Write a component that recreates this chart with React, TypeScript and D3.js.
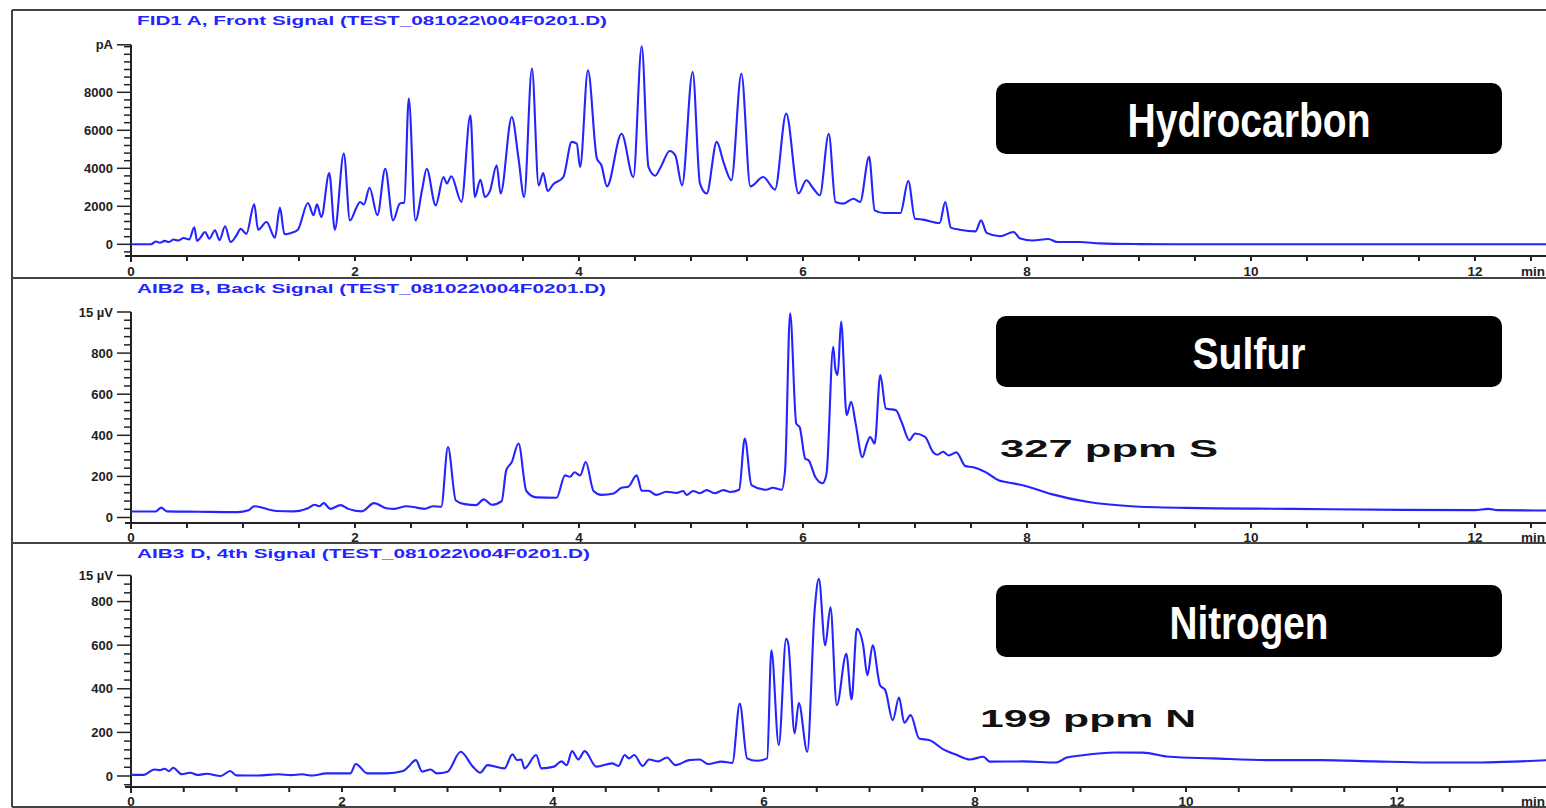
import React from "react";
import * as d3 from "d3";

const W = 1546;
const H = 808;

// ---------- DATA (retention time in min, detector signal) ----------
const hydrocarbonSignal: [number, number][] = [
  [0, 0], [0.18, 0], [0.22, 150], [0.26, 80], [0.3, 180], [0.34, 120], [0.38, 250], [0.42, 200],
  [0.47, 330], [0.52, 260], [0.565, 900], [0.59, 180], [0.62, 350], [0.66, 650], [0.7, 300],
  [0.75, 740], [0.79, 220], [0.84, 950], [0.89, 120], [0.94, 450], [0.98, 810], [1.03, 550],
  [1.1, 2100], [1.135, 770], [1.21, 1170], [1.285, 350], [1.33, 1930], [1.37, 530], [1.43, 600],
  [1.49, 770], [1.58, 2170], [1.63, 1530], [1.66, 2100], [1.7, 1440], [1.77, 3750], [1.82, 770],
  [1.9, 4770], [1.955, 1260], [2.01, 1900], [2.045, 2230], [2.08, 2100], [2.13, 2980], [2.2, 1530],
  [2.27, 3980], [2.34, 1260], [2.4, 2140], [2.44, 2200], [2.48, 7670], [2.54, 1260], [2.6, 2900],
  [2.64, 3980], [2.72, 2050], [2.79, 3540], [2.82, 3200], [2.86, 3580], [2.95, 2230], [3.03, 6790],
  [3.07, 2490], [3.12, 3400], [3.16, 2490], [3.205, 2810], [3.265, 4160], [3.3, 2670], [3.4, 6700],
  [3.46, 4510], [3.51, 2490], [3.58, 9250], [3.64, 3100], [3.68, 3750], [3.72, 2810], [3.77, 3160],
  [3.86, 3540], [3.935, 5390], [3.98, 5300], [4.01, 4070], [4.08, 9160], [4.16, 4510], [4.2, 4160],
  [4.25, 3050], [4.38, 5820], [4.485, 3540], [4.56, 10420], [4.62, 4070], [4.68, 3610], [4.73, 4070],
  [4.81, 4910], [4.86, 4680], [4.92, 3100], [5.015, 9070], [5.08, 3190], [5.14, 2670], [5.23, 5390],
  [5.29, 4330], [5.36, 3370], [5.45, 8980], [5.53, 3050], [5.645, 3540], [5.75, 2880], [5.85, 6880],
  [5.96, 2670], [6.03, 3370], [6.09, 2950], [6.15, 2580], [6.23, 5820], [6.29, 2230], [6.36, 2140],
  [6.45, 2400], [6.51, 2230], [6.59, 4600], [6.64, 1790], [6.72, 1650], [6.87, 1650], [6.94, 3330],
  [7.0, 1350], [7.07, 1300], [7.22, 1120], [7.27, 2230], [7.32, 880], [7.4, 770], [7.54, 680],
  [7.59, 1260], [7.64, 600], [7.76, 420], [7.88, 650], [7.94, 300], [8.05, 200], [8.19, 280],
  [8.27, 120], [8.47, 120], [8.65, 50], [9.0, 10], [9.3, 0], [12.7, 0],
];

const sulfurSignal: [number, number][] = [
  [0, 29], [0.22, 29], [0.27, 48], [0.32, 30], [0.6, 28], [0.95, 26], [1.05, 35], [1.1, 55],
  [1.16, 50], [1.22, 40], [1.3, 32], [1.45, 30], [1.58, 45], [1.64, 62], [1.68, 55], [1.72, 70],
  [1.78, 42], [1.87, 60], [1.94, 42], [2.06, 30], [2.17, 70], [2.28, 45], [2.35, 42], [2.46, 55],
  [2.55, 48], [2.62, 42], [2.7, 55], [2.77, 52], [2.83, 343], [2.9, 83], [2.98, 65], [3.08, 60],
  [3.15, 88], [3.22, 62], [3.31, 80], [3.35, 229], [3.4, 270], [3.46, 360], [3.53, 129], [3.62, 98],
  [3.8, 96], [3.875, 205], [3.92, 198], [3.96, 220], [4.01, 205], [4.06, 270], [4.13, 129],
  [4.2, 110], [4.31, 117], [4.38, 145], [4.44, 150], [4.515, 205], [4.56, 130], [4.62, 130],
  [4.69, 110], [4.78, 125], [4.87, 120], [4.93, 129], [4.96, 110], [5.02, 129], [5.08, 118],
  [5.14, 133], [5.21, 118], [5.29, 133], [5.35, 124], [5.43, 135], [5.48, 384], [5.54, 158],
  [5.67, 135], [5.73, 145], [5.81, 135], [5.84, 230], [5.885, 994], [5.94, 457], [5.97, 440],
  [6.02, 286], [6.05, 278], [6.11, 197], [6.175, 167], [6.21, 213], [6.27, 831], [6.29, 718],
  [6.31, 694], [6.34, 953], [6.39, 498], [6.43, 563], [6.47, 457], [6.53, 294], [6.57, 360],
  [6.6, 392], [6.64, 360], [6.69, 693], [6.74, 530], [6.83, 522], [6.88, 465], [6.95, 376],
  [7.0, 409], [7.09, 392], [7.16, 319], [7.2, 305], [7.25, 320], [7.3, 302], [7.37, 317],
  [7.45, 250], [7.52, 245], [7.63, 221], [7.75, 180], [7.82, 172], [7.97, 156], [8.21, 115],
  [8.55, 75], [8.93, 55], [9.42, 47], [10.38, 42], [11.34, 37], [12.0, 36], [12.12, 42],
  [12.2, 36], [12.7, 34],
];

const nitrogenSignal: [number, number][] = [
  [0, 5], [0.12, 5], [0.22, 30], [0.27, 27], [0.32, 33], [0.36, 22], [0.4, 38], [0.48, 8],
  [0.56, 15], [0.63, 5], [0.72, 10], [0.85, 0], [0.94, 23], [1.0, 3], [1.2, 2], [1.4, 8],
  [1.52, 4], [1.62, 8], [1.72, 2], [1.85, 12], [2.08, 12], [2.13, 55], [2.24, 12], [2.42, 12],
  [2.58, 23], [2.63, 43], [2.7, 73], [2.76, 20], [2.84, 30], [2.9, 12], [3.0, 20], [3.125, 111],
  [3.24, 43], [3.31, 15], [3.38, 50], [3.54, 35], [3.615, 99], [3.66, 73], [3.7, 76], [3.73, 35],
  [3.84, 96], [3.89, 35], [4.01, 43], [4.08, 67], [4.13, 50], [4.18, 114], [4.24, 76], [4.3, 114],
  [4.41, 43], [4.56, 58], [4.62, 46], [4.68, 96], [4.72, 81], [4.77, 96], [4.85, 46], [4.91, 76],
  [5.0, 67], [5.08, 85], [5.16, 50], [5.29, 73], [5.39, 76], [5.47, 55], [5.6, 66], [5.7, 60],
  [5.77, 332], [5.84, 81], [5.93, 70], [6.03, 81], [6.07, 576], [6.14, 142], [6.21, 629],
  [6.23, 607], [6.29, 195], [6.33, 335], [6.41, 111], [6.48, 760], [6.52, 904], [6.58, 599],
  [6.63, 774], [6.69, 325], [6.78, 561], [6.83, 351], [6.88, 675], [6.94, 599], [6.98, 462],
  [7.03, 599], [7.1, 416], [7.15, 393], [7.22, 256], [7.28, 360], [7.33, 244], [7.39, 279],
  [7.47, 172], [7.57, 164], [7.7, 122], [7.83, 96], [7.95, 76], [8.08, 88], [8.14, 66],
  [8.46, 67], [8.77, 62], [8.87, 85], [9.0, 94], [9.33, 108], [9.59, 107], [9.84, 88],
  [10.25, 81], [10.76, 73], [11.28, 73], [11.79, 67], [12.3, 62], [12.81, 62], [13.17, 67],
  [13.45, 73],
];

const xMajorTicks = [0, 2, 4, 6, 8, 10, 12];
const hcYTicks = [0, 2000, 4000, 6000, 8000];
const detYTicks = [0, 200, 400, 600, 800];

const panelTitles = [
  "FID1 A, Front Signal (TEST_081022\\004F0201.D)",
  "AIB2 B, Back Signal (TEST_081022\\004F0201.D)",
  "AIB3 D, 4th Signal (TEST_081022\\004F0201.D)",
];
const unitLabels = ["pA", "15 µV", "15 µV"];
const elementLabels = ["Hydrocarbon", "Sulfur", "Nitrogen"];
const concentrationLabels = ["", "327 ppm S", "199 ppm N"];

// ---------- LAYOUT ----------
type Cfg = {
  data: [number, number][];
  title: string;
  titleBase: number;
  titleLen: number;
  pxPerMin: number;
  zeroY: number;
  topVal: number;
  topY: number;
  axisY: number;
  yMajor: number[];
  minorStep: number;
  minorMin: number;
  unit: string;
  labelBase: number;
  box: [number, number];
  element: string;
  elemBase: number;
  elemLen: number;
  elemSize: number;
  conc: string;
  concX: number;
  concBase: number;
  concLen: number;
};

const AXIS_X = 131;
const FONT = "'Liberation Sans', Arial, sans-serif";
const NARROW = "'Liberation Sans Narrow', 'Arial Narrow', 'Liberation Sans', Arial, sans-serif";
const BLUE = "#2424ff";

const configs: Cfg[] = [
  {
    data: hydrocarbonSignal, title: panelTitles[0], titleBase: 24.5, titleLen: 470,
    pxPerMin: 112, zeroY: 244.3, topVal: 10500, topY: 44.8, axisY: 256,
    yMajor: hcYTicks, minorStep: 400, minorMin: -400, unit: unitLabels[0], labelBase: 276,
    box: [83, 154], element: elementLabels[0], elemBase: 137, elemLen: 243, elemSize: 49,
    conc: concentrationLabels[0], concX: 0, concBase: 0, concLen: 0,
  },
  {
    data: sulfurSignal, title: panelTitles[1], titleBase: 292.5, titleLen: 469,
    pxPerMin: 112, zeroY: 517.5, topVal: 1000, topY: 312, axisY: 523,
    yMajor: detYTicks, minorStep: 40, minorMin: 40, unit: unitLabels[1], labelBase: 542,
    box: [316, 387], element: elementLabels[1], elemBase: 369, elemLen: 113, elemSize: 45,
    conc: concentrationLabels[1], concX: 1000, concBase: 456.7, concLen: 218,
  },
  {
    data: nitrogenSignal, title: panelTitles[2], titleBase: 558, titleLen: 453,
    pxPerMin: 105.5, zeroY: 776, topVal: 920, topY: 575.4, axisY: 787,
    yMajor: detYTicks, minorStep: 40, minorMin: -40, unit: unitLabels[2], labelBase: 806,
    box: [585, 657], element: elementLabels[2], elemBase: 639, elemLen: 159, elemSize: 47,
    conc: concentrationLabels[2], concX: 980, concBase: 727.3, concLen: 216,
  },
];

function Panel({ c }: { c: Cfg }) {
  const x = d3.scaleLinear().domain([0, 1]).range([AXIS_X, AXIS_X + c.pxPerMin]);
  const y = d3.scaleLinear().domain([0, c.topVal]).range([c.zeroY, c.topY]);
  const line = d3
    .line<[number, number]>()
    .x((d) => x(d[0]))
    .y((d) => y(d[1]))
    .curve(d3.curveMonotoneX);
  const tEnd = x.invert(W + 2);
  const minorX = d3.range(0, tEnd, 0.5);
  const minorY = d3.range(c.minorMin, c.topVal, c.minorStep).filter(
    (v) => !c.yMajor.includes(v) && y(v) <= c.axisY
  );
  const tickColor = "#222";
  return (
    <g>
      <text x={137} y={c.titleBase} fill={BLUE} fontFamily={FONT} fontWeight="bold" fontSize={13.5}
        textLength={c.titleLen} lengthAdjust="spacingAndGlyphs">{c.title}</text>
      {/* y axis */}
      <line x1={AXIS_X} x2={AXIS_X} y1={c.topY} y2={c.axisY + 6} stroke={tickColor} strokeWidth={2} />
      {minorY.map((v) => (
        <line key={"my" + v} x1={AXIS_X - 7} x2={AXIS_X} y1={y(v)} y2={y(v)} stroke={tickColor} strokeWidth={1.5} />
      ))}
      {c.yMajor.map((v) => (
        <g key={"Y" + v}>
          <line x1={AXIS_X - 14} x2={AXIS_X} y1={y(v)} y2={y(v)} stroke={tickColor} strokeWidth={1.5} />
          <text x={AXIS_X - 18} y={y(v)} dy="0.36em" textAnchor="end" fontFamily={FONT} fontSize={13}
            fontWeight="bold" fill="#222">
            {String(v)}
          </text>
        </g>
      ))}
      <line x1={AXIS_X - 14} x2={AXIS_X} y1={c.topY} y2={c.topY} stroke={tickColor} strokeWidth={1.5} />
      <text x={AXIS_X - 18} y={c.topY} dy="0.36em" textAnchor="end" fontFamily={FONT} fontSize={13}
        fontWeight="bold" fill="#222">
        {c.unit}
      </text>
      {/* x axis */}
      <line x1={AXIS_X - 6} x2={W} y1={c.axisY} y2={c.axisY} stroke={tickColor} strokeWidth={2} />
      {minorX.map((t) => (
        <line key={"mx" + t} x1={x(t)} x2={x(t)} y1={c.axisY} y2={c.axisY + 5} stroke={tickColor} strokeWidth={2} />
      ))}
      {xMajorTicks.filter((t) => t <= tEnd).map((t) => (
        <text key={"X" + t} x={x(t)} y={c.labelBase} textAnchor="middle" fontFamily={FONT} fontSize={13.5}
          fontWeight="bold" fill="#222">
          {String(t)}
        </text>
      ))}
      <text x={1521} y={c.labelBase} fontFamily={FONT} fontSize={13.5} fontWeight="bold" fill="#222">min</text>
      {/* signal */}
      <path d={line(c.data) ?? ""} fill="none" stroke={BLUE} strokeWidth={2.1} strokeLinejoin="round" />
      {/* label box */}
      <rect x={996} y={c.box[0]} width={506} height={c.box[1] - c.box[0]} rx={10} ry={10} fill="#000" />
      <text x={1249} y={c.elemBase} textAnchor="middle" fill="#fff" fontFamily={NARROW} fontWeight="bold"
        fontSize={c.elemSize} textLength={c.elemLen} lengthAdjust="spacingAndGlyphs">{c.element}</text>
      {c.conc && (
        <text x={c.concX} y={c.concBase} fill="#111" fontFamily={FONT} fontWeight="bold" fontSize={23}
          textLength={c.concLen} lengthAdjust="spacingAndGlyphs">{c.conc}</text>
      )}
    </g>
  );
}

export default function App() {
  const frameY = [10, 278, 543, 807];
  return (
    <svg width={W} height={H} style={{ position: "absolute", left: 0, top: 0, background: "#fff" }}>
      <rect x={0} y={0} width={W} height={H} fill="#fff" />
      {configs.map((c, i) => (
        <Panel key={i} c={c} />
      ))}
      {frameY.map((fy) => (
        <line key={fy} x1={12} x2={W} y1={fy} y2={fy} stroke="#444" strokeWidth={2} />
      ))}
      <line x1={12} x2={12} y1={10} y2={807} stroke="#444" strokeWidth={2} />
    </svg>
  );
}
